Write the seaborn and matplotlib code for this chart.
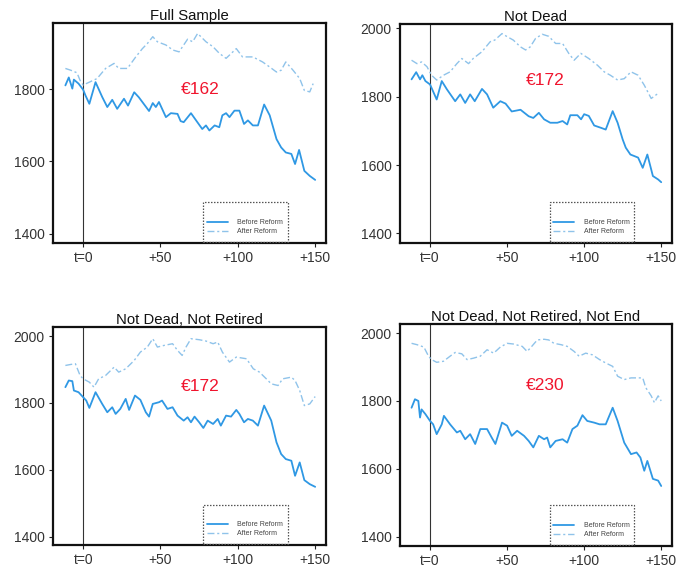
import numpy as np
import pandas as pd
import matplotlib
matplotlib.use("Agg")
import matplotlib.pyplot as plt
from matplotlib.patches import Rectangle
import seaborn as sns

# ---------------- data ----------------
titles = ["Full Sample", "Not Dead", "Not Dead, Not Retired", "Not Dead, Not Retired, Not End"]
gaps = ["€162", "€172", "€172", "€230"]
xtick_vals = [0, 50, 100, 150]
xtick_labels = ["t=0", "+50", "+100", "+150"]
ytick_vals = [1400, 1600, 1800, 2000]

# Panel 1: Full Sample
p1_before_t = [-11.5, -9.3, -7, -6, -3, 0, 1.5, 4, 8, 12.3, 15.6, 18.8, 22, 26.4, 29, 33, 36, 42.6, 45, 47, 49,
               53.5, 56.7, 61, 63, 65, 69.7, 73, 77, 79.4, 81.6, 85, 88, 90, 92.4, 94.6, 97.8, 101, 104, 106.5,
               109.7, 113, 117, 120.6, 125, 128, 131, 134.6, 137, 139.6, 143, 146.5, 150]
p1_before_y = [1811, 1833, 1802, 1827, 1816, 1799, 1783, 1760, 1820, 1779, 1751, 1771, 1746, 1774, 1755, 1792, 1778,
               1740, 1762, 1751, 1765, 1723, 1734, 1732, 1712, 1709, 1734, 1714, 1690, 1700, 1686, 1700, 1695, 1728,
               1734, 1723, 1741, 1741, 1704, 1714, 1700, 1700, 1758, 1728, 1662, 1639, 1625, 1621, 1593, 1632, 1574,
               1560, 1549]
p1_after_t = [-11.5, -8, -4, -2, 0, 4, 9, 14.5, 20, 23, 28.6, 34, 38.3, 41.5, 45, 48, 53.5, 58, 62, 67.5, 70.8, 74,
              79.4, 84, 88, 92.4, 99, 103, 109.7, 116, 120.6, 125, 128, 131, 135.7, 140, 143, 146.5, 148.7]
p1_after_y = [1858, 1853, 1846, 1825, 1812, 1820, 1830, 1858, 1872, 1858, 1858, 1890, 1913, 1927, 1946, 1932, 1923,
              1909, 1904, 1939, 1932, 1955, 1932, 1918, 1900, 1886, 1913, 1890, 1890, 1876, 1862, 1848, 1853, 1876,
              1853, 1830, 1797, 1793, 1816]

# Panel 2: Not Dead
p2_before_t = [-12, -9, -6.5, -5, -3, 0, 4.3, 7.6, 10.9, 16.3, 19.6, 22.8, 26, 29, 33.7, 37, 41, 45.6, 49, 53, 58.7,
               64, 67, 70.6, 74, 78, 82.6, 86, 89, 91, 95.6, 98, 100, 103, 106.5, 111, 114, 118.5, 121.7, 125, 127,
               130, 135, 138, 141, 144.6, 148, 150]
p2_before_y = [1851, 1872, 1851, 1863, 1846, 1836, 1792, 1846, 1822, 1787, 1807, 1782, 1807, 1787, 1823, 1807, 1768,
               1787, 1780, 1757, 1762, 1743, 1738, 1753, 1734, 1724, 1724, 1729, 1719, 1746, 1746, 1734, 1749, 1744,
               1716, 1709, 1704, 1758, 1724, 1675, 1651, 1631, 1622, 1592, 1631, 1568, 1558, 1550]
p2_after_t = [-12, -8.5, -5.5, -2, 1, 4.3, 8.7, 13, 17.4, 20.6, 25, 28, 33.7, 39, 42, 46.7, 50, 54, 58.7, 62, 65,
              68.5, 72.8, 77, 81.5, 86, 90, 93.5, 97.8, 103, 108.7, 113, 117, 121.7, 126, 130.4, 135, 139, 143.5, 148]
p2_after_y = [1907, 1897, 1902, 1888, 1863, 1849, 1863, 1873, 1897, 1912, 1897, 1912, 1932, 1961, 1966, 1985, 1976,
              1966, 1946, 1937, 1946, 1971, 1983, 1977, 1956, 1956, 1927, 1907, 1927, 1912, 1892, 1873, 1863, 1849,
              1853, 1873, 1863, 1834, 1795, 1810]

# Panel 3: Not Dead, Not Retired
p3_before_t = [-11.5, -9.3, -7, -6, -3, 0, 2, 4, 8, 12.3, 15.6, 18.8, 21, 24, 27.5, 29.7, 33.5, 37, 40.5, 42.6, 45,
               49, 51, 54.5, 57.8, 61, 65, 67.5, 69.7, 72, 75, 77.7, 80.5, 84, 87, 89, 92.4, 95.6, 99, 101, 104,
               106.5, 109.7, 113, 117, 121.6, 125, 128, 131, 134.6, 137, 140, 143, 146.5, 150]
p3_before_y = [1847, 1867, 1865, 1837, 1832, 1817, 1807, 1785, 1832, 1797, 1772, 1787, 1767, 1782, 1812, 1779, 1822,
               1809, 1772, 1759, 1797, 1802, 1807, 1782, 1787, 1762, 1747, 1757, 1742, 1759, 1742, 1725, 1747, 1737,
               1752, 1732, 1762, 1759, 1779, 1767, 1742, 1752, 1747, 1732, 1792, 1747, 1682, 1647, 1632, 1627, 1582,
               1622, 1569, 1557, 1549]
p3_after_t = [-11.5, -8, -5, -2, 0, 4, 7, 10, 14.5, 20, 23, 27.5, 33, 37, 41.5, 45, 48, 52.4, 57.8, 61, 64, 66.5,
              69.7, 75, 79.4, 84, 87, 90, 94.6, 99, 105.6, 110, 114, 118.4, 121.6, 126, 129, 134.6, 137, 140, 143,
              146.5, 150]
p3_after_y = [1912, 1915, 1917, 1882, 1872, 1862, 1847, 1872, 1882, 1907, 1892, 1902, 1927, 1952, 1967, 1992, 1967,
              1972, 1977, 1957, 1942, 1967, 1992, 1989, 1985, 1977, 1982, 1952, 1922, 1937, 1932, 1902, 1892, 1872,
              1857, 1852, 1872, 1877, 1867, 1837, 1792, 1797, 1819]

# Panel 4: Not Dead, Not Retired, Not End
p4_before_t = [-12, -9.8, -7.6, -6.5, -5.5, -3, 0, 2, 4.3, 7.6, 9, 13, 17.4, 19.6, 22.8, 26, 29.3, 32.6, 37, 40,
               42.4, 46.7, 50, 53, 56.5, 61, 64, 67, 70.6, 74, 76, 78, 81.5, 86, 89, 92.4, 95.6, 98.9, 102, 106.5,
               110, 114, 118.5, 121.7, 126, 130.4, 134, 136.5, 139, 141, 144.6, 148, 150]
p4_before_y = [1780, 1805, 1800, 1751, 1775, 1761, 1741, 1731, 1702, 1731, 1756, 1731, 1707, 1712, 1687, 1702, 1673,
               1717, 1717, 1692, 1673, 1736, 1727, 1697, 1712, 1697, 1682, 1663, 1697, 1687, 1692, 1663, 1682, 1687,
               1677, 1717, 1727, 1758, 1741, 1736, 1731, 1731, 1780, 1741, 1677, 1643, 1648, 1633, 1594, 1623, 1570,
               1565, 1549]
p4_after_t = [-12, -8.5, -4, -1, 1, 4.3, 8.7, 13, 16.3, 20.6, 24, 28, 32.6, 37, 41.3, 45.6, 50, 54, 59.8, 63, 66,
              69.6, 74, 77, 80.4, 85, 89, 93.5, 96.7, 101, 105.4, 110, 114, 118.5, 121.7, 126, 130.4, 135, 138, 140,
              143.5, 145.6, 148, 150]
p4_after_y = [1970, 1966, 1959, 1932, 1922, 1914, 1917, 1932, 1943, 1939, 1922, 1926, 1932, 1951, 1941, 1959, 1970,
              1968, 1961, 1946, 1961, 1980, 1982, 1980, 1970, 1966, 1961, 1946, 1932, 1941, 1936, 1922, 1912, 1902,
              1873, 1863, 1868, 1868, 1868, 1839, 1815, 1795, 1815, 1800]

panels = [
    (p1_before_t, p1_before_y, p1_after_t, p1_after_y),
    (p2_before_t, p2_before_y, p2_after_t, p2_after_y),
    (p3_before_t, p3_before_y, p3_after_t, p3_after_y),
    (p4_before_t, p4_before_y, p4_after_t, p4_after_y),
]

# ---------------- layout / style ----------------
sns.set_theme(style="white")
plt.rcParams["font.family"] = ["Liberation Sans", "DejaVu Sans"]

W, H = 677, 569
fig = plt.figure(figsize=(W / 100, H / 100), dpi=100)

# axes boxes in pixels: (left, top, right, bottom)
boxes = [(53, 23, 326, 243), (400, 24, 672, 243), (53, 327, 326, 545), (400, 324, 672, 546)]
ylims = [(1374, 1984), (1372, 2013), (1375, 2027), (1372, 2027)]
label_pos = [(0.538, 0.70), (0.533, 0.74), (0.538, 0.726), (0.533, 0.725)]

before_color = "#2f98e4"
after_color = "#8fc3ea"

for i, (box, (bt, by, at, ay)) in enumerate(zip(boxes, panels)):
    l, t, r, b = box
    ax = fig.add_axes([l / W, 1 - b / H, (r - l) / W, (b - t) / H])
    df_b = pd.DataFrame({"t": bt, "v": by})
    df_a = pd.DataFrame({"t": at, "v": ay})
    sns.lineplot(data=df_b, x="t", y="v", ax=ax, color=before_color, lw=1.3, label="Before Reform")
    sns.lineplot(data=df_a, x="t", y="v", ax=ax, color=after_color, lw=1.0,
                 linestyle=(0, (5, 2, 1.5, 2)), label="After Reform")
    ax.axvline(0, color="#333333", lw=0.8, zorder=1)
    ax.set_xticks(xtick_vals)
    ax.set_xticklabels(xtick_labels)
    ax.set_yticks(ytick_vals)
    ax.set_xlim(-19.5, 157)
    ax.set_ylim(*ylims[i])
    ax.set_xlabel("")
    ax.set_ylabel("")
    ax.tick_params(axis="both", which="both", direction="out", length=3, width=0.8,
                   colors="#222222", labelsize=10, labelcolor="#333333", pad=3,
                   left=True, bottom=True)
    for s in ax.spines.values():
        s.set_visible(True)
        s.set_color("#111111")
        s.set_linewidth(1.6)
    ax.set_title(titles[i], fontsize=10.7, color="#111111", pad=2)
    ax.text(label_pos[i][0], label_pos[i][1], gaps[i], transform=ax.transAxes, color="#f0142d",
            fontsize=12.5, ha="center", va="center")
    # legend with dotted frame at lower right
    ax.add_patch(Rectangle((0.55, 0.005), 0.31, 0.18, transform=ax.transAxes, fill=False,
                           edgecolor="#555555", lw=0.9, linestyle=(0, (1.2, 1.2)), zorder=5))
    leg = ax.legend(loc="lower left", bbox_to_anchor=(0.535, 0.0), frameon=False,
                    fontsize=5, handlelength=3.0, labelspacing=0.35, borderpad=0.6,
                    handletextpad=1.4)
    for txt in leg.get_texts():
        txt.set_color("#444444")

fig.savefig("out.png", dpi=100)
